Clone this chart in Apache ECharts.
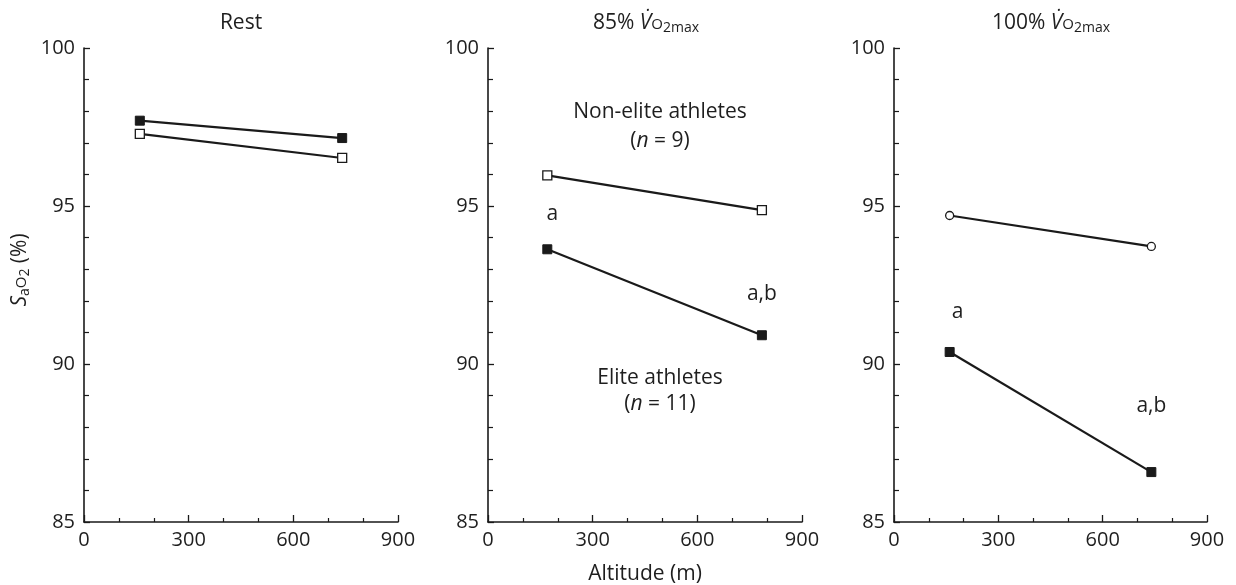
<!DOCTYPE html>
<html>
<head>
<meta charset="utf-8">
<script src="https://cdn.jsdelivr.net/npm/echarts@6/dist/echarts.min.js"></script>
<style>
  html, body { margin: 0; padding: 0; background: #fff; }
  #chart { width: 1236px; height: 585px; }
</style>
</head>
<body>
<div id="chart"></div>
<script>
// Arterial O2 saturation (%) at two altitudes (m), elite vs non-elite athletes
const xTickLabels = [0, 300, 600, 900];
const yTickLabels = [85, 90, 95, 100];

// Rest
const altitudeRest = [160, 740];
const restElite = [97.7, 97.15];
const restNonElite = [97.28, 96.52];

// 85% VO2max
const altitude85 = [170, 785];
const nonElite85 = [95.97, 94.87];
const elite85 = [93.63, 90.91];
const elite85Marks = ['a', 'a,b'];

// 100% VO2max
const altitude100 = [160, 740];
const nonElite100 = [94.7, 93.72];
const elite100 = [90.38, 86.58];
const elite100Marks = ['a', 'a,b'];

// Group captions, placed in the 85% panel's data space [altitude, SaO2]
const groupCaptions = [
  { at: [493, 97.97], text: 'Non-elite athletes' },
  { at: [493, 97.07], text: '({i|n} = 9)' },
  { at: [493, 89.56], text: 'Elite athletes' },
  { at: [493, 88.73], text: '({i|n} = 11)' }
];

const FONT = '"Open Sans", "Noto Sans", sans-serif';
const INK = '#1a1a1a';
const TXT = '#1e1e1e';
const FS = 21;      // words
const FS_NUM = 20;  // tick numbers

const richBase = {
  i: { fontStyle: 'italic', fontSize: FS, color: TXT, fontFamily: FONT },
  o: { fontSize: 15, color: TXT, fontFamily: FONT, padding: [3, 0, 0, 0] },
  sub: { fontSize: 14, color: TXT, fontFamily: FONT, padding: [11, 0, 0, 0] }
};

const grids = [
  { left: 84, top: 48, width: 314, height: 474 },
  { left: 488, top: 48, width: 314, height: 474 },
  { left: 894, top: 48, width: 313, height: 474 }
].map(g => Object.assign({ containLabel: false, outerBoundsMode: 'none' }, g));

function xAxisCfg(i) {
  const cfg = {
    type: 'value', gridIndex: i, min: 0, max: 900, interval: 300,
    axisLine: { show: true, onZero: false, lineStyle: { color: INK, width: 1.6 } },
    axisTick: { show: true, inside: true, length: 7, lineStyle: { color: INK, width: 1.3 } },
    minorTick: { show: true, splitNumber: 3, length: 4, lineStyle: { color: INK, width: 1.2 } },
    splitLine: { show: false },
    minorSplitLine: { show: false },
    axisLabel: {
      color: TXT, fontSize: FS_NUM, fontFamily: FONT, margin: 8,
      formatter: v => (xTickLabels.includes(v) ? String(v) : '')
    }
  };
  if (i === 1) {
    cfg.name = 'Altitude (m)';
    cfg.nameLocation = 'middle';
    cfg.nameGap = 42;
    cfg.nameTextStyle = { color: TXT, fontSize: FS, fontFamily: FONT };
  }
  return cfg;
}

function yAxisCfg(i) {
  return {
    type: 'value', gridIndex: i, min: 85, max: 100, interval: 5,
    axisLine: { show: true, onZero: false, lineStyle: { color: INK, width: 1.6 } },
    axisTick: { show: true, inside: true, length: 6, lineStyle: { color: INK, width: 1.3 } },
    minorTick: { show: true, splitNumber: 5, length: 5, lineStyle: { color: INK, width: 1.2 } },
    splitLine: { show: false },
    minorSplitLine: { show: false },
    axisLabel: {
      color: TXT, fontSize: FS_NUM, fontFamily: FONT, margin: 9,
      formatter: v => (yTickLabels.includes(v) ? String(v) : '')
    }
  };
}

function pairs(xs, ys, marks, offsets) {
  return xs.map((x, k) => {
    const item = { value: [x, ys[k]] };
    if (marks) {
      item.label = {
        show: true, position: 'inside', formatter: marks[k],
        offset: offsets[k], color: TXT, fontSize: FS, fontFamily: FONT
      };
    }
    return item;
  });
}

const filledSym = { symbol: 'rect', symbolSize: 9, itemStyle: { color: INK, borderColor: INK, borderWidth: 1 } };
const openSym = { symbol: 'rect', symbolSize: 9, itemStyle: { color: '#fff', borderColor: INK, borderWidth: 1.3 } };
const circleSym = { symbol: 'circle', symbolSize: 8, itemStyle: { color: '#fff', borderColor: INK, borderWidth: 1.3 } };

function lineSeries(i, name, data, sym) {
  return Object.assign({
    type: 'line', name, xAxisIndex: i, yAxisIndex: i, data,
    showAllSymbol: true, animation: false, z: 3,
    lineStyle: { color: INK, width: 2.2 },
    emphasis: { disabled: true }
  }, sym);
}

const series = [
  lineSeries(0, 'Elite, rest', pairs(altitudeRest, restElite), filledSym),
  lineSeries(0, 'Non-elite, rest', pairs(altitudeRest, restNonElite), openSym),
  lineSeries(1, 'Non-elite, 85%', pairs(altitude85, nonElite85), openSym),
  lineSeries(1, 'Elite, 85%', pairs(altitude85, elite85, elite85Marks, [[5, -35], [0, -41]]), filledSym),
  lineSeries(2, 'Non-elite, 100%', pairs(altitude100, nonElite100), circleSym),
  lineSeries(2, 'Elite, 100%', pairs(altitude100, elite100, elite100Marks, [[8, -40], [0, -66]]), filledSym)
];

function titleText(x, text) {
  return {
    type: 'text', x, y: 23,
    style: {
      text, align: 'center', verticalAlign: 'middle',
      fontSize: FS, fontFamily: FONT, fill: TXT,
      rich: richBase
    }
  };
}

const staticGraphics = [
  titleText(241, 'Rest'),
  titleText(646, '85% {i|V\u0307}{o|O}{sub|2max}'),
  titleText(1051, '100% {i|V\u0307}{o|O}{sub|2max}'),
  {
    type: 'text', x: 20, y: 270, rotation: Math.PI / 2,
    style: {
      text: '{i|S}{sub|a}{o|O}{sub|2} (%)', align: 'center', verticalAlign: 'middle',
      fontSize: FS, fontFamily: FONT, fill: TXT, rich: richBase
    }
  }
];

const chart = echarts.init(document.getElementById('chart'), null, { renderer: 'canvas' });
chart.setOption({
  animation: false,
  backgroundColor: '#fff',
  grid: grids,
  xAxis: [0, 1, 2].map(xAxisCfg),
  yAxis: [0, 1, 2].map(yAxisCfg),
  series,
  graphic: staticGraphics
});

// Group captions anchored to data coordinates of the middle panel
const captionGraphics = groupCaptions.map(c => {
  const p = chart.convertToPixel({ xAxisIndex: 1, yAxisIndex: 1 }, c.at);
  return {
    type: 'text', x: p[0], y: p[1],
    style: {
      text: c.text, align: 'center', verticalAlign: 'middle',
      fontSize: FS, fontFamily: FONT, fill: TXT, rich: richBase
    }
  };
});
chart.setOption({ graphic: staticGraphics.concat(captionGraphics) });
</script>
</body>
</html>
